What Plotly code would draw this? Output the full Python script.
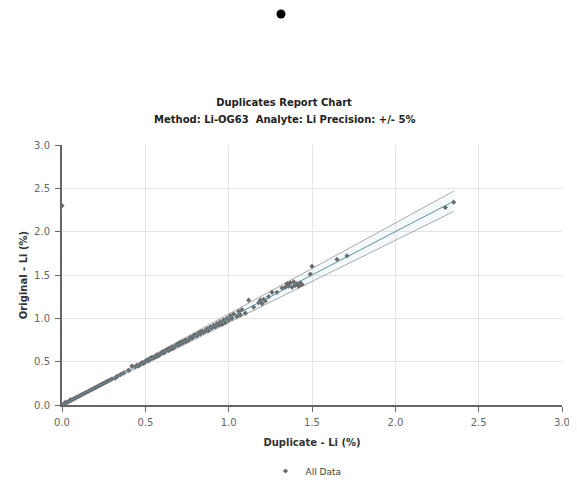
import plotly.graph_objects as go

# Duplicate (x) vs Original (y) values, Li %
duplicate = [
    0.01, 0.02, 0.02, 0.03, 0.04, 0.05, 0.05, 0.06, 0.07, 0.08, 0.09, 0.10,
    0.11, 0.12, 0.13, 0.14, 0.15, 0.16, 0.17, 0.18, 0.19, 0.20, 0.21, 0.22,
    0.23, 0.24, 0.25, 0.26, 0.27, 0.28, 0.29, 0.30, 0.32, 0.33, 0.35, 0.37,
    0.40, 0.42, 0.44, 0.45, 0.46, 0.47, 0.48, 0.49, 0.50, 0.51, 0.52, 0.53,
    0.54, 0.55, 0.56, 0.57, 0.58, 0.59, 0.60, 0.61, 0.62, 0.63, 0.64, 0.65,
    0.66, 0.67, 0.68, 0.69, 0.70, 0.71, 0.72, 0.73, 0.74, 0.75, 0.76, 0.77,
    0.78, 0.79, 0.80, 0.81, 0.82, 0.83, 0.84, 0.85, 0.86, 0.87, 0.88, 0.89,
    0.90, 0.91, 0.92, 0.93, 0.94, 0.95, 0.96, 0.97, 0.98, 0.99, 1.00, 1.01,
    1.02, 1.03, 1.05, 1.06, 1.07, 1.08, 1.10, 1.12, 1.15, 1.18, 1.19, 1.20,
    1.21, 1.22, 1.24, 1.26, 1.29, 1.32, 1.34, 1.35, 1.36, 1.37, 1.38, 1.39,
    1.40, 1.41, 1.42, 1.43, 1.44, 1.50, 1.49, 1.65, 1.71, 2.30, 2.35, 0.00,
    0.53, 0.57, 0.61, 0.66, 0.70, 0.74, 0.79, 0.83, 0.87, 0.64, 0.72, 0.76,
]
original = [
    0.01, 0.02, 0.03, 0.03, 0.04, 0.05, 0.06, 0.06, 0.07, 0.08, 0.09, 0.10,
    0.11, 0.12, 0.13, 0.14, 0.15, 0.16, 0.17, 0.18, 0.19, 0.20, 0.21, 0.22,
    0.23, 0.24, 0.25, 0.26, 0.27, 0.28, 0.29, 0.30, 0.31, 0.33, 0.35, 0.37,
    0.40, 0.45, 0.44, 0.46, 0.45, 0.47, 0.49, 0.48, 0.50, 0.52, 0.51, 0.53,
    0.55, 0.54, 0.56, 0.58, 0.57, 0.59, 0.61, 0.60, 0.62, 0.64, 0.63, 0.65,
    0.67, 0.66, 0.68, 0.70, 0.69, 0.72, 0.71, 0.73, 0.75, 0.74, 0.76, 0.78,
    0.77, 0.79, 0.81, 0.80, 0.83, 0.82, 0.85, 0.84, 0.86, 0.88, 0.86, 0.90,
    0.89, 0.92, 0.90, 0.94, 0.92, 0.96, 0.93, 0.98, 0.95, 1.00, 0.98, 1.03,
    1.00, 1.05, 1.02, 1.08, 1.04, 1.10, 1.06, 1.21, 1.13, 1.18, 1.21, 1.17,
    1.22, 1.20, 1.25, 1.30, 1.30, 1.35, 1.36, 1.40, 1.37, 1.41, 1.36, 1.42,
    1.38, 1.40, 1.37, 1.41, 1.39, 1.60, 1.51, 1.68, 1.72, 2.28, 2.34, 2.30,
    0.54, 0.56, 0.62, 0.65, 0.71, 0.73, 0.80, 0.84, 0.86, 0.65, 0.73, 0.75,
]

# Reference lines (1:1 and +/- 5% precision)
ref_x = [0.0, 2.35]
ref_mid = [0.0, 2.35]
ref_upper = [0.0, 2.4675]
ref_lower = [0.0, 2.2325]

x_ticks = [0.0, 0.5, 1.0, 1.5, 2.0, 2.5, 3.0]
y_ticks = [0.0, 0.5, 1.0, 1.5, 2.0, 2.5, 3.0]
tick_text = ["0.0", "0.5", "1.0", "1.5", "2.0", "2.5", "3.0"]

FONT = "DejaVu Sans"
W, H = 569, 473  # page has an 8px body margin
PL, PW, PT, PH = 54, 500, 137, 260  # plot area in figure pixels

fig = go.Figure()
fig.add_trace(go.Scatter(x=ref_x, y=ref_lower, mode="lines",
                         line=dict(color="#a8a8a8", width=1),
                         showlegend=False, hoverinfo="skip"))
fig.add_trace(go.Scatter(x=ref_x, y=ref_upper, mode="lines",
                         line=dict(color="#a8a8a8", width=1),
                         fill="tonexty", fillcolor="rgba(200,228,240,0.2)",
                         showlegend=False, hoverinfo="skip"))
fig.add_trace(go.Scatter(x=duplicate, y=original, mode="markers", name="All Data",
                         marker=dict(symbol="diamond", size=4, color="#6a6a6a")))
fig.add_trace(go.Scatter(x=ref_x, y=ref_mid, mode="lines",
                         line=dict(color="#5f8fa3", width=1),
                         showlegend=False, hoverinfo="skip"))

fig.update_layout(
    width=W, height=H,
    margin=dict(l=PL, r=W - PL - PW, t=PT, b=H - PT - PH),
    paper_bgcolor="white", plot_bgcolor="white",
    font=dict(family=FONT, size=10, color="#555"),
    title=dict(
        text="<b>Duplicates Report Chart</b>",
        x=276 / W, xanchor="center", y=1 - 94 / H, yanchor="middle",
        font=dict(family=FONT, size=10, color="#222"),
    ),
    legend=dict(orientation="h", xref="container", yref="container",
                x=(306 - 8) / W, xanchor="center",
                y=(H - 463) / H, yanchor="middle",
                font=dict(family=FONT, size=9, color="#444"), itemwidth=30),
    showlegend=True,
)
fig.add_annotation(
    text="<b>Method: Li-OG63  Analyte: Li Precision: +/- 5%</b>",
    xref="paper", yref="paper",
    x=(276 - PL) / PW, y=(PT + PH - 112) / PH,
    xanchor="center", yanchor="middle", showarrow=False,
    font=dict(family=FONT, size=10, color="#222"),
)
fig.update_xaxes(
    range=[0, 3], tickvals=x_ticks, ticktext=tick_text, automargin=False,
    showgrid=True, gridcolor="#e4e4e4", gridwidth=1,
    showline=True, linecolor="#666", linewidth=2,
    ticks="outside", ticklen=5, tickcolor="#666", zeroline=False,
    ticklabelstandoff=2,
    tickfont=dict(family=FONT, size=10, color="#666"),
    title=dict(text="<b>Duplicate - Li (%)</b>", standoff=12,
               font=dict(family=FONT, size=10, color="#333")),
)
fig.update_yaxes(
    range=[0, 3], tickvals=y_ticks, ticktext=tick_text, automargin=False,
    showgrid=True, gridcolor="#e4e4e4", gridwidth=1,
    showline=True, linecolor="#666", linewidth=2,
    ticks="outside", ticklen=5, tickcolor="#666", zeroline=False,
    ticklabelstandoff=3,
    tickfont=dict(family=FONT, size=10, color="#666"),
    title=dict(text="<b>Original - Li (%)</b>", standoff=5,
               font=dict(family=FONT, size=10, color="#333")),
)

# Black dot at top of the page
fig.add_shape(type="circle", xref="paper", yref="paper",
              xsizemode="pixel", ysizemode="pixel",
              xanchor=(273 - PL) / PW, yanchor=(PT + PH - 6) / PH,
              x0=-4.5, x1=4.5, y0=-4.5, y1=4.5,
              fillcolor="black", line=dict(color="black", width=0))

fig.write_html("out.html")
